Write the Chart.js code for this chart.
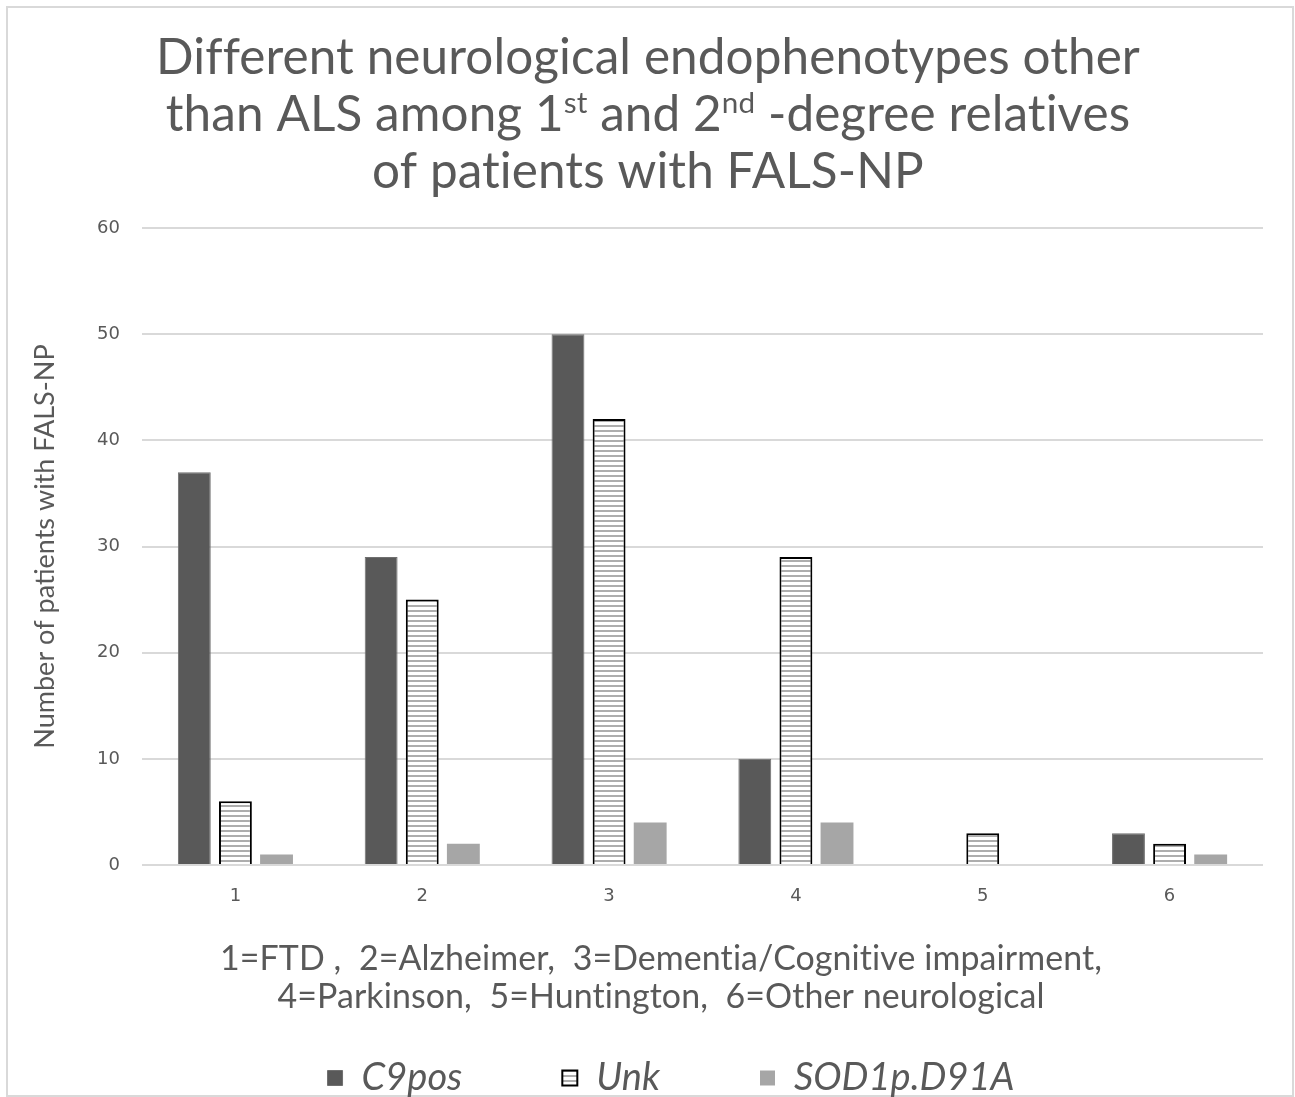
<!DOCTYPE html>
<html><head><meta charset="utf-8">
<script src="https://cdn.jsdelivr.net/npm/chart.js@4.4.1/dist/chart.umd.min.js"></script>
<style>html,body{margin:0;padding:0;overflow:hidden;background:#fff}canvas{display:block}</style>
</head><body>
<canvas id="c" width="1295" height="1107"></canvas>
<script>
// ---- data ----
const categories = ['1', '2', '3', '4', '5', '6'];
const c9pos = [37, 29, 50, 10, 0, 3];
const unk = [6, 25, 42, 29, 3, 2];
const sod1 = [1, 2, 4, 4, 0, 1];
const seriesNames = ['C9pos', 'Unk', 'SOD1p.D91A'];
const yMin = 0, yMax = 60, yStep = 10;
const yAxisTitle = 'Number of patients with FALS-NP';
const titleLines = [
  [{t: 'Different neurological endophenotypes other'}],
  [{t: 'than ALS among 1'}, {t: 'st', sup: true}, {t: ' and 2'}, {t: 'nd', sup: true}, {t: ' -degree relatives'}],
  [{t: 'of patients with FALS-NP'}]
];
const descLines = [
  '1=FTD ,  2=Alzheimer,  3=Dementia/Cognitive impairment,',
  '4=Parkinson,  5=Huntington,  6=Other neurological'
];

// ---- styles ----
const TEXT = '#595959';
const FAMILY = 'Lato';
const canvas = document.getElementById('c');
const ctx = canvas.getContext('2d');

const pc = document.createElement('canvas');
pc.width = 8; pc.height = 5;
const pctx = pc.getContext('2d');
pctx.fillStyle = '#ffffff'; pctx.fillRect(0, 0, 8, 5);
pctx.fillStyle = '#adadad'; pctx.fillRect(0, 0, 8, 2);
const stripes = ctx.createPattern(pc, 'repeat');

function fitSize(text, style, target) {
  ctx.save();
  ctx.font = style + ' 100px ' + FAMILY;
  const w = ctx.measureText(text).width;
  ctx.restore();
  return 100 * target / w;
}
const titleSize = fitSize(titleLines[0][0].t, '', 978);
const descSize = fitSize(descLines[0], '', 878);

function drawRich(c, parts, cx, baseline, size) {
  const sup = size * 0.6;
  let total = 0;
  parts.forEach(p => { c.font = (p.sup ? sup : size) + 'px ' + FAMILY; p.w = c.measureText(p.t).width; total += p.w; });
  let x = cx - total / 2;
  parts.forEach(p => {
    c.font = (p.sup ? sup : size) + 'px ' + FAMILY;
    c.fillText(p.t, x, p.sup ? baseline - size * 0.36 : baseline);
    x += p.w;
  });
}

const decor = {
  id: 'decor',
  beforeDraw(chart) {
    const c = chart.ctx;
    c.save();
    c.fillStyle = '#ffffff';
    c.fillRect(0, 0, chart.width, chart.height);
    c.strokeStyle = '#d9d9d9';
    c.lineWidth = 2;
    c.strokeRect(7, 7, 1286, 1089);
    c.restore();
  },
  afterDraw(chart) {
    const c = chart.ctx;
    c.save();
    if ('letterSpacing' in c) c.letterSpacing = '0.1px';
    c.fillStyle = TEXT;
    c.textAlign = 'left';
    c.textBaseline = 'alphabetic';
    const tb = [74, 131, 188];
    titleLines.forEach((parts, i) => drawRich(c, parts, 648, tb[i], titleSize));
    const db = [970, 1008];
    descLines.forEach((l, i) => drawRich(c, [{t: l}], 661, db[i], descSize));
    c.restore();
  }
};

const LEGEND_PAD = 100, LEGEND_FONT = 38, LEFT_PAD = 79;

new Chart(ctx, {
  type: 'bar',
  data: {
    labels: categories,
    datasets: [
      {label: seriesNames[0], data: c9pos, backgroundColor: '#595959', borderColor: '#6f6f6f', borderWidth: 1},
      {label: seriesNames[1], data: unk, backgroundColor: stripes, borderColor: '#000000', borderWidth: 2},
      {label: seriesNames[2], data: sod1, backgroundColor: '#a6a6a6'}
    ]
  },
  options: {
    responsive: false,
    animation: false,
    events: [],
    layout: {padding: {top: 228, left: LEFT_PAD, right: 32, bottom: 0}},
    datasets: {bar: {categoryPercentage: 0.66, barPercentage: 0.8}},
    plugins: {
      title: {display: false},
      tooltip: {enabled: false},
      legend: {
        position: 'bottom',
        fullSize: true,
        labels: {
          boxWidth: 15, boxHeight: 15, padding: LEGEND_PAD, color: TEXT,
          font: {family: FAMILY, size: LEGEND_FONT, style: 'italic'}
        }
      }
    },
    scales: {
      x: {
        grid: {display: false},
        border: {display: false},
        ticks: {color: TEXT, padding: 13, font: {family: 'DejaVu Sans', size: 18}},
        afterFit(scale) { scale.height = scale.chart.height - (LEGEND_FONT + LEGEND_PAD + 10) - 865; }
      },
      y: {
        min: yMin, max: yMax,
        ticks: {stepSize: yStep, padding: 22, color: TEXT, font: {family: 'DejaVu Sans', size: 18}},
        grid: {color: '#d9d9d9', lineWidth: 2, drawTicks: false},
        border: {display: false},
        title: {display: true, text: yAxisTitle, color: TEXT, font: {family: FAMILY, size: 27}, padding: {top: 29 - LEFT_PAD, bottom: 0}},
        afterFit(scale) { scale.width = 142 - LEFT_PAD; }
      }
    }
  },
  plugins: [decor]
});
</script>
</body></html>
